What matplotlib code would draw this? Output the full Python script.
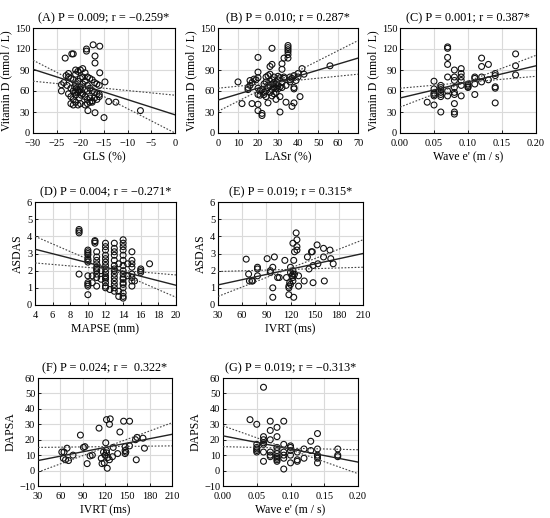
from matplotlib import rcParams
from matplotlib import pyplot as plt
from matplotlib.ticker import MultipleLocator, FormatStrFormatter

rcParams['font.family'] = ['Liberation Serif', 'DejaVu Serif']
rcParams['font.size'] = 8
rcParams['axes.unicode_minus'] = True

# (A) GLS vs Vitamin D
a_x = [-23.2, -21.8, -21.5, -18.7, -18.7, -17.3, -15.9, -16.9, -16.9, -15.9, -14.8, -24, -24,
       -18.4, -16.9, -15, -14, -12.5, -7.3,
       -23, -22.5, -22, -21.5, -21, -20.5, -20, -19.5, -19, -18.5, -18, -17.5, -17, -16.5, -16,
       -23.5, -22.8, -22, -21.5, -21, -20.5, -20, -19.5, -19, -18.5, -18, -17.5, -17, -16.5, -16,
       -22.5, -22, -21.5, -21, -20.5, -20, -19.5, -19, -18.5, -18, -17.5, -17, -16.5, -16,
       -22, -21.5, -21, -20.5, -20, -19, -18.5, -18, -17.5,
       -21, -20.5, -20, -19.5, -19, -18.5, -20.3, -20.8, -19.8, -20.2, -21.2, -22.5, -21]
a_y = [107, 113, 113, 120, 117, 126, 124, 110, 100, 86, 73, 69, 60,
       32, 29, 22, 45, 44, 32,
       82, 80, 78, 76, 84, 88, 90, 92, 86, 80, 78, 76, 72, 70, 68,
       72, 68, 64, 60, 58, 62, 66, 70, 74, 68, 64, 60, 58, 56, 52,
       56, 52, 48, 54, 58, 62, 56, 52, 48, 50, 46, 50, 48, 55,
       42, 40, 44, 40, 42, 40, 42, 44, 44,
       70, 74, 78, 80, 62, 60, 60, 64, 54, 50, 66, 85, 90]
a_fit = [91, 26]
a_band1 = [104, 0]
a_band2 = [74, 54]

# (B) LASr vs Vitamin D
b_x = [10, 12, 15, 15, 16, 16, 17, 18, 19, 17, 20, 20, 20, 20, 20, 20, 20, 21, 21, 22, 22, 22,
       23, 23, 24, 24, 24, 25, 25, 25, 26, 26, 26, 26, 26, 27, 27, 27, 27, 27, 27, 28, 28, 28,
       28, 29, 29, 29, 30, 30, 30, 30, 31, 31, 31, 31, 32, 32, 32, 32, 33, 33, 34, 34, 35, 35,
       35, 35, 35, 35, 36, 36, 37, 37, 38, 38, 38, 38, 39, 40, 40, 41, 42, 43, 56, 24, 23, 29,
       33, 36]
b_y = [73, 42, 62, 65, 68, 75, 72, 77, 76, 42, 108, 87, 79, 64, 55, 41, 32, 60, 54, 62, 28, 25,
       58, 55, 80, 60, 52, 43, 65, 82, 95, 84, 74, 68, 58, 98, 121, 76, 70, 62, 53, 80, 72, 66,
       56, 70, 64, 58, 81, 76, 68, 63, 79, 66, 52, 30, 91, 99, 72, 65, 107, 80, 44, 68, 125, 122,
       119, 116, 112, 107, 73, 80, 38, 78, 82, 65, 63, 43, 75, 85, 80, 52, 92, 84, 96, 73, 70, 48,
       78, 76]
b_fit = [47, 107]
b_band1 = [64, 84]
b_band2 = [31, 132]

# (C) Wave e' vs Vitamin D
c_x = [0.04, 0.05, 0.05, 0.05, 0.05, 0.05, 0.05, 0.06, 0.06, 0.06, 0.06, 0.06, 0.06, 0.06,
       0.07, 0.07, 0.07, 0.07, 0.07, 0.07, 0.07, 0.08, 0.08, 0.08, 0.08, 0.08, 0.08, 0.08, 0.08,
       0.08, 0.09, 0.09, 0.09, 0.09, 0.09, 0.09, 0.10, 0.10, 0.10, 0.10, 0.11, 0.11, 0.11, 0.11,
       0.12, 0.12, 0.12, 0.12, 0.13, 0.13, 0.14, 0.14, 0.14, 0.14, 0.14, 0.17, 0.17, 0.17]
c_y = [44, 74, 63, 55, 53, 57, 40, 68, 62, 58, 55, 52, 65, 30,
       123, 121, 108, 98, 80, 60, 53, 90, 80, 75, 65, 58, 55, 42, 30,
       27, 92, 85, 80, 75, 68, 53, 70, 68, 66, 65, 80, 78, 70, 55,
       107, 95, 80, 73, 98, 76, 85, 82, 66, 64, 43, 113, 96, 83]
c_fit = [50, 96]
c_band1 = [64, 81]
c_band2 = [37, 111]

# (D) MAPSE vs ASDAS
d_x = [9, 9, 9, 9,
       10, 10, 10, 10, 10, 10, 10, 10, 10, 10, 10, 10,
       10.5, 10.5, 10.8, 10.8, 10.8,
       11, 11, 11, 11, 11, 11, 11, 11, 11, 11, 11.5, 11.5,
       12, 12, 12, 12, 12, 12, 12, 12, 12, 12, 12, 12, 12, 12, 12, 12.5,
       13, 13, 13, 13, 13, 13, 13, 13, 13, 13, 13, 13, 13, 13, 13.5, 13.5, 13.5,
       14, 14, 14, 14, 14, 14, 14, 14, 14, 14, 14, 14, 14, 14, 14, 14, 14, 14.5, 14.5,
       15, 15, 15, 15, 15, 15, 15, 15, 15.3, 16, 16, 16, 17]
d_y = [4.4, 4.3, 4.2, 1.8,
       3.2, 3.1, 3.0, 2.9, 2.7, 2.6, 2.5, 1.7, 1.3, 1.2, 1.1, 0.6,
       1.7, 1.3, 3.7, 3.75, 3.6,
       3.1, 2.8, 2.6, 2.4, 2.2, 2.1, 2.0, 1.8, 1.6, 1.1, 2.0, 1.5,
       3.6, 3.4, 3.2, 2.9, 2.7, 2.5, 2.3, 2.1, 1.9, 1.7, 1.6, 1.5, 1.3, 1.1, 1.0, 0.9,
       3.6, 3.3, 3.1, 2.9, 2.6, 2.3, 2.1, 2.0, 1.8, 1.6, 1.4, 1.2, 1.0, 0.8, 0.5, 0.8, 2.4,
       3.8, 3.6, 3.4, 3.2, 2.9, 2.6, 2.3, 2.0, 1.8, 1.6, 1.5, 1.3, 1.2, 1.0, 0.7, 0.5, 0.4, 2.4, 1.7,
       3.1, 2.6, 2.4, 2.2, 1.8, 1.6, 1.4, 1.1, 1.4, 2.1, 2.0, 1.9, 2.4]
d_fit = [3.25, 1.15]
d_band1 = [4.0, 0.45]
d_band2 = [2.45, 1.75]

# (E) IVRT vs ASDAS
e_x = [65, 68, 69, 72, 73, 79, 79, 79, 91, 95, 95, 100, 98, 98, 98, 104, 106, 113, 115,
       118, 118, 119, 120, 118, 123, 124, 124, 127, 128, 128, 128, 125, 123, 123, 123, 123,
       130, 130, 137, 141, 143, 146, 147, 148, 148, 153, 154, 161, 161, 162, 169, 170, 173,
       120, 122, 125, 120]
e_y = [2.67, 1.8, 1.4, 1.4, 1.4, 2.2, 2.1, 1.7, 2.7, 2.0, 1.9, 2.8, 2.2, 1.0, 0.45, 1.6, 1.6,
       2.6, 1.6, 1.1, 1.0, 1.3, 1.9, 0.6, 3.6, 2.6, 0.45, 4.2, 3.8, 3.4, 3.2, 3.1, 2.0, 1.8,
       1.6, 1.4, 1.7, 1.1, 1.4, 2.8, 2.1, 3.1, 3.1, 1.3, 2.3, 3.5, 2.4, 3.3, 2.8, 1.4, 3.2, 2.7,
       2.4, 2.2, 1.7, 1.8, 1.2]
e_fit = [1.17, 3.0]
e_band1 = [1.95, 2.2]
e_band2 = [0.5, 3.8]

# (F) IVRT vs DAPSA
f_x = [62, 65, 69, 64, 67, 71, 77, 87, 91, 93, 96, 100, 103, 112, 115, 116, 121, 122, 122,
       127, 126, 122, 120, 124, 126, 123, 130, 131, 137, 140, 145, 147, 147, 147, 148, 153,
       153, 162, 161, 163, 171, 173, 118, 119]
f_y = [12, 12, 14.5, 8, 7, 6.5, 10, 23, 15, 15.5, 4.5, 9.5, 10, 27.5, 8, 4.5, 18, 13, 33,
       33.5, 30, 11.5, 10, 8.5, 7, 1.5, 9, 15, 11, 25, 32, 15.5, 13, 11, 12, 32, 16, 7, 20, 21.5,
       21, 14.5, 12, 5]
f_fit = [6.5, 23.5]
f_band1 = [15, 16]
f_band2 = [-1, 31]

# (G) Wave e' vs DAPSA
g_x = [0.04, 0.05, 0.05, 0.05, 0.05, 0.05, 0.05,
       0.06, 0.06, 0.06, 0.06, 0.06, 0.06, 0.06,
       0.07, 0.07, 0.07, 0.07, 0.07, 0.07,
       0.08, 0.08, 0.08, 0.08, 0.08, 0.08, 0.08, 0.08, 0.08,
       0.09, 0.09, 0.09, 0.09, 0.09, 0.09,
       0.10, 0.10, 0.10, 0.10, 0.10, 0.11, 0.11, 0.11, 0.12, 0.12, 0.13, 0.13,
       0.14, 0.14, 0.14, 0.14, 0.14, 0.14, 0.17, 0.17, 0.17]
g_y = [33, 30, 17, 15, 14, 13, 12,
       54, 22, 20, 18, 17, 12, 6,
       32, 26, 20, 12, 10, 9,
       28, 22, 15, 13, 11, 9, 8, 7, 6,
       32, 17, 12, 10, 8, 1,
       16, 15, 13, 10, 5, 12, 7, 6, 14, 8, 19, 13,
       24, 14, 10, 9, 8, 5, 14, 10, 9]
g_fit = [22.5, 5.5]
g_band1 = [29, -2]
g_band2 = [15.5, 13.5]

W, H = 550, 518


def panel(box, title, xs, ys, fit, band1, band2, xlim, ylim, xstep, ystep,
          xlabel, ylabel, xfmt=None):
    left, right, top, bottom = box
    ax = fig.add_axes([left / W, 1 - bottom / H, (right - left) / W, (bottom - top) / H])
    ax.grid(True, color='#dadada', linewidth=0.8, zorder=0)
    ax.scatter(xs, ys, s=18, facecolors='none', edgecolors='#111111', linewidths=0.8, zorder=3)
    ax.plot(xlim, fit, color='#222222', linewidth=1.0, zorder=4)
    ax.plot(xlim, band1, color='#444444', linewidth=0.8, linestyle=(0, (1.5, 1.5)), zorder=4)
    ax.plot(xlim, band2, color='#444444', linewidth=0.8, linestyle=(0, (1.5, 1.5)), zorder=4)
    ax.set_xlim(xlim)
    ax.set_ylim(ylim)
    ax.xaxis.set_major_locator(MultipleLocator(xstep))
    ax.yaxis.set_major_locator(MultipleLocator(ystep))
    if xfmt:
        ax.xaxis.set_major_formatter(FormatStrFormatter(xfmt))
    ax.tick_params(which='both', direction='in', length=2, width=0.6, labelsize=7.5)
    ax.tick_params(axis='x', pad=4)
    ax.tick_params(axis='y', pad=2)
    for s in ax.spines.values():
        s.set_linewidth(0.8)
    ax.set_title(title, fontsize=8.8, pad=5)
    ax.set_xlabel(xlabel, fontsize=8.5, labelpad=3)
    ax.set_ylabel(ylabel, fontsize=8.5, labelpad=2)
    ax.set_axisbelow(True)
    return ax


fig = plt.figure(figsize=(5.5, 5.18), dpi=100)

panel((33, 175, 28, 133), '(A) P = 0.009; r = \u22120.259*', a_x, a_y, a_fit, a_band1, a_band2,
      (-30, 0), (0, 150), 5, 30, 'GLS (%)', 'Vitamin D (nmol / L)')
panel((218, 358, 28, 133), '(B) P = 0.010; r = 0.287*', b_x, b_y, b_fit, b_band1, b_band2,
      (0, 70), (0, 150), 10, 30, 'LASr (%)', 'Vitamin D (nmol / L)')
panel((400, 536, 28, 133), '(C) P = 0.001; r = 0.387*', c_x, c_y, c_fit, c_band1, c_band2,
      (0, 0.2), (0, 150), 0.05, 30, "Wave e' (m / s)", 'Vitamin D (nmol / L)', '%.2f')
panel((35, 176, 202, 305), '(D) P = 0.004; r = \u22120.271*', d_x, d_y, d_fit, d_band1, d_band2,
      (4, 20), (0, 6), 2, 1, 'MAPSE (mm)', 'ASDAS')
panel((218, 363, 202, 305), '(E) P = 0.019; r = 0.315*', e_x, e_y, e_fit, e_band1, e_band2,
      (30, 210), (0, 6), 30, 1, 'IVRT (ms)', 'ASDAS')
panel((38, 172, 378, 486), '(F) P = 0.024; r =  0.322*', f_x, f_y, f_fit, f_band1, f_band2,
      (30, 210), (-10, 60), 30, 10, 'IVRT (ms)', 'DAPSA')
panel((223, 358, 378, 486), '(G) P = 0.019; r = \u22120.313*', g_x, g_y, g_fit, g_band1, g_band2,
      (0, 0.2), (-10, 60), 0.05, 10, "Wave e' (m / s)", 'DAPSA', '%.2f')

plt.savefig('out.png', dpi=100)
